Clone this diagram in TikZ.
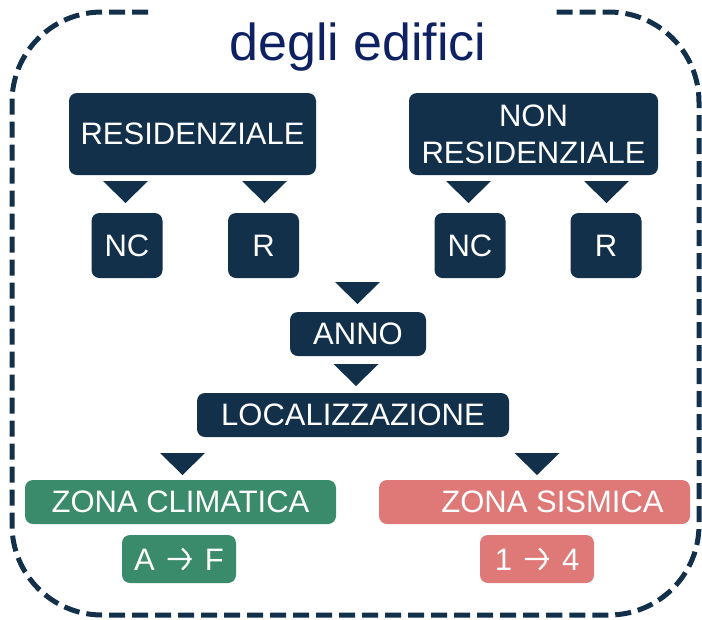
\documentclass[tikz,border=0pt]{standalone}
\usepackage{fontspec}
\setmainfont{Liberation Sans}
\usepackage{tikz}
\usetikzlibrary{calc}

\definecolor{boxnavy}{HTML}{13304B}
\definecolor{titleblue}{HTML}{0E2263}
\definecolor{zonegreen}{HTML}{3A8A6C}
\definecolor{zonered}{HTML}{DE7978}

\tikzset{
  box/.style={fill=boxnavy, text=white, rounded corners=8pt, inner sep=0pt,
    align=center, font=\fontsize{31}{37}\selectfont},
  smallbox/.style={box, minimum width=71pt, minimum height=65pt},
  greenbox/.style={box, fill=zonegreen},
  redbox/.style={box, fill=zonered},
  tri/.style={fill=boxnavy},
  frame/.style={draw=boxnavy, line width=5pt, dash pattern=on 16pt off 7pt},
}
% triangle pointing down: centre x, top y
\newcommand{\downtri}[2]{\fill[tri] (#1-22.5,#2) -- (#1+22.5,#2) -- (#1,#2+22) -- cycle;}
% arrow between the class limits
\newcommand{\toarrow}{\hspace{3pt}\tikz[baseline=0pt, x=1pt, y=1pt]
  \draw[white, line width=2.3pt] (0,11) -- (24,11) (14.5,21.5) -- (24.5,11) -- (14.5,0.5);\hspace{3pt}}

\begin{document}
\begin{tikzpicture}[x=1pt, y=-1pt]
    \useasboundingbox (0,0) rectangle (702,619);

    % dashed frame, open at the top
    \draw[frame, rounded corners=90pt]
        (148,12) -- (12,12) -- (12,615) -- (699,615) -- (699,12) -- (556,12);

    \node[font=\fontsize{52}{60}\selectfont, text=titleblue, anchor=base]
        (title) at (358,60) {degli edifici};

    % destinazione d'uso
    \node[box, minimum width=247pt, minimum height=82pt] (res) at (192.5,134) {RESIDENZIALE};
    \node[box, minimum width=249pt, minimum height=82pt] (nres) at (533.5,134) {NON\\RESIDENZIALE};

    \downtri{125.5}{181}
    \downtri{264.5}{181}
    \downtri{468.5}{181}
    \downtri{606.5}{181}

    \node[smallbox] (resnc) at (127,245.5) {\raisebox{-3pt}{NC}};
    \node[smallbox] (resr) at (263.5,245.5) {\raisebox{-3pt}{R}};
    \node[smallbox] (nresnc) at (470,245.5) {\raisebox{-3pt}{NC}};
    \node[smallbox] (nresr) at (606,245.5) {\raisebox{-3pt}{R}};

    % anno e localizzazione
    \downtri{357.5}{282}
    \node[box, minimum width=136pt, minimum height=44pt] (anno) at (358,334) {ANNO};
    \downtri{356}{364}
    \node[box, minimum width=312pt, minimum height=44pt] (loc) at (353,415) {LOCALIZZAZIONE};

    % zone
    \downtri{182.5}{453}
    \downtri{537}{453}
    \node[greenbox, minimum width=311pt, minimum height=44pt] (zc) at (180.5,502) {ZONA CLIMATICA};
    \node[redbox, minimum width=311pt, minimum height=44pt] (zs) at (534.5,502) {\hspace*{36pt}ZONA SISMICA};
    \node[greenbox, minimum width=114pt, minimum height=48pt] (zcval) at (179,559) {A \toarrow{} F};
    \node[redbox, minimum width=114pt, minimum height=48pt] (zsval) at (537,559) {1 \toarrow{} 4};
\end{tikzpicture}
\end{document}
